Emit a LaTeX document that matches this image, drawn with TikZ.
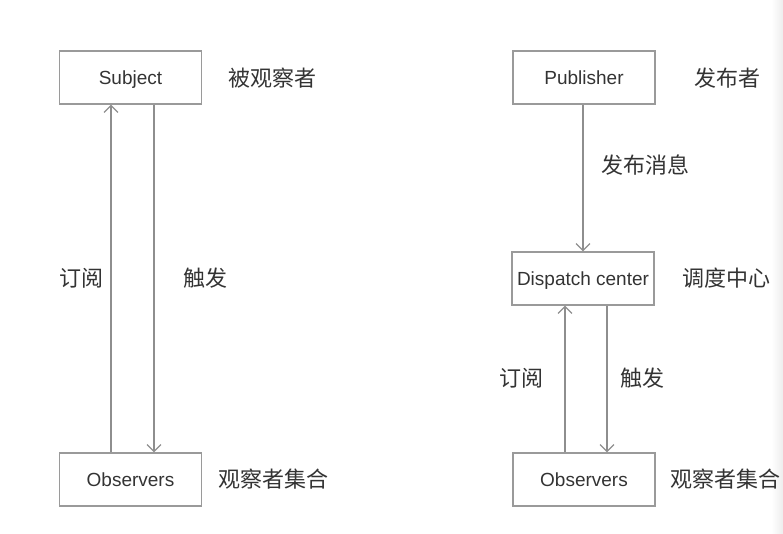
\documentclass[tikz,border=0pt]{standalone}
\usepackage{fontspec}
\setmainfont{Liberation Sans}
\newfontfamily\cjk{Noto Sans CJK SC}
\usetikzlibrary{arrows.meta}
\definecolor{linegray}{HTML}{8E8E8E}
\definecolor{boxgray}{HTML}{9A9A9A}
\definecolor{txt}{HTML}{333333}
\begin{document}
\begin{tikzpicture}[x=1pt,y=-1pt,
  box/.style={draw=boxgray,line width=1.2pt,rectangle,minimum width=142pt,minimum height=53pt,inner sep=0pt,text height=17pt,text depth=3.5pt,font=\fontsize{19}{21}\selectfont,text=txt},
  lbl/.style={font=\cjk\fontsize{22}{24}\selectfont,text=txt,inner sep=0pt},
  arr/.style={draw=linegray,line width=1.2pt,-{Straight Barb[length=7pt,width=14pt,line width=1.2pt]}},
  ]
\useasboundingbox (0,0) rectangle (783,533);
\shade[left color=white,right color=black!7] (771,0) rectangle (783,533);
% left diagram
\node[box] (subj) at (130.5,77.5) {Subject};
\node[box] (obsL) at (130.5,479.5) {Observers};
\node[lbl] (l1) at (272.5,78) {被观察者};
\node[lbl] (l2) at (273,479.5) {观察者集合};
\node[lbl] (l3) at (81.5,278.5) {订阅};
\node[lbl] (l4) at (205.5,278.5) {触发};
\draw[arr] ([xshift=-19.5pt]obsL.north) -- ([xshift=-19.5pt]subj.south);
\draw[arr] ([xshift=23.5pt]subj.south) -- ([xshift=23.5pt]obsL.north);
% right diagram
\node[box] (pub) at (584,77.5) {Publisher};
\node[box] (disp) at (583,278.5) {Dispatch center};
\node[box] (obsR) at (584,479.5) {Observers};
\node[lbl] (r1) at (727.5,78) {发布者};
\node[lbl] (r2) at (645,165.5) {发布消息};
\node[lbl] (r3) at (726,278.5) {调度中心};
\node[lbl] (r4) at (725,479.5) {观察者集合};
\node[lbl] (r5) at (521.5,378.5) {订阅};
\node[lbl] (r6) at (642,378.5) {触发};
\draw[arr] ([xshift=-1pt]pub.south) -- (disp.north);
\draw[arr] ([xshift=-19pt]obsR.north) -- ([xshift=-18pt]disp.south);
\draw[arr] ([xshift=24pt]disp.south) -- ([xshift=23pt]obsR.north);
\end{tikzpicture}
\end{document}
